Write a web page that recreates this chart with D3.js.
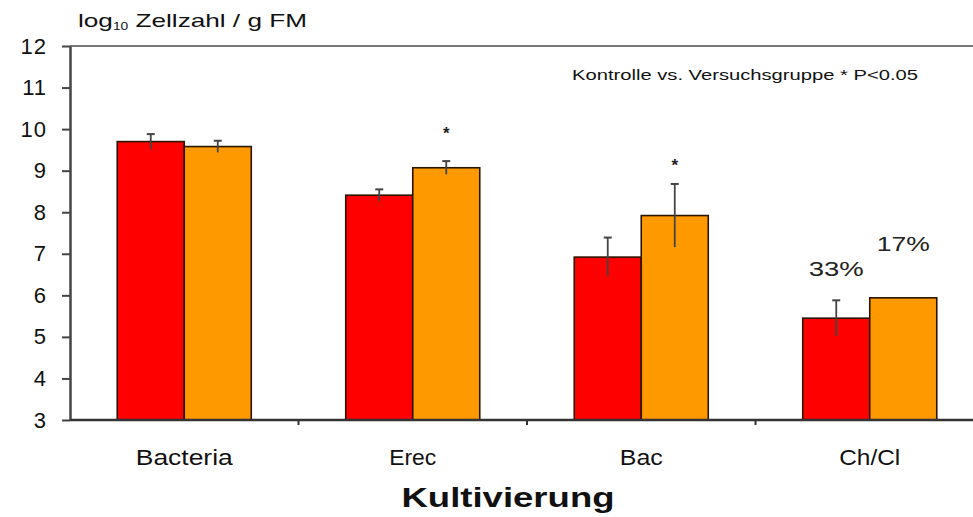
<!DOCTYPE html>
<html><head><meta charset="utf-8">
<script src="https://cdn.jsdelivr.net/npm/d3@7"></script>
<style>body{margin:0;background:#fff}svg{display:block}text{font-family:"Liberation Sans",Arial,sans-serif}</style>
</head><body><svg id="c" width="973" height="517"></svg>
<script>
const categories = ["Bacteria","Erec","Bac","Ch/Cl"];
const series = ["Kontrolle","Versuchsgruppe"];
const kontrolle = [9.70, 8.41, 6.92, 5.45];
const versuch   = [9.58, 9.07, 7.92, 5.94];
const kontrolleErr = [0.18, 0.14, 0.47, 0.43];
const versuchErr   = [0.14, 0.16, 0.76, null];
const signif = [false, true, true, false];
const pctLabels = ["", "", "", "33%"];
const pctLabels2 = ["", "", "", "17%"];
const yTicks = [3,4,5,6,7,8,9,10,11,12];
const colors = ["#ff0000","#ff9900"];

const svg = d3.select("#c");
const y = d3.scaleLinear().domain([3,12]).range([420,46]);
const x0 = d3.scaleBand().domain(categories).range([70,984]).padding(0);
const x1 = d3.scaleBand().domain(series).range([0,x0.bandwidth()]).paddingInner(0).paddingOuter(0.705);

const rows = categories.map((c,i)=>({c, vals:[
  {s:series[0], v:kontrolle[i], e:kontrolleErr[i]},
  {s:series[1], v:versuch[i], e:versuchErr[i]}], sig:signif[i], p1:pctLabels[i], p2:pctLabels2[i]}));

// top border
svg.append("line").attr("x1",70).attr("x2",973).attr("y1",y(12)).attr("y2",y(12))
  .attr("stroke","#777").attr("stroke-width",2);

// bars
const g = svg.selectAll("g.cat").data(rows).join("g").attr("class","cat")
  .attr("transform",d=>`translate(${x0(d.c)},0)`);
g.selectAll("rect").data(d=>d.vals).join("rect")
  .attr("x",d=>x1(d.s)).attr("width",x1.bandwidth())
  .attr("y",d=>y(d.v)).attr("height",d=>y(3)-y(d.v))
  .attr("fill",(d,i)=>colors[i]).attr("stroke","#2a1500").attr("stroke-width",1.6);

// error bars
const eb = g.selectAll("g.err").data(d=>d.vals.filter(v=>v.e!=null)).join("g").attr("class","err");
eb.append("line").attr("x1",d=>x1(d.s)+x1.bandwidth()/2).attr("x2",d=>x1(d.s)+x1.bandwidth()/2)
  .attr("y1",d=>y(d.v+d.e)).attr("y2",d=>y(d.v-d.e)).attr("stroke","#444").attr("stroke-width",1.8);
eb.append("line").attr("x1",d=>x1(d.s)+x1.bandwidth()/2-4).attr("x2",d=>x1(d.s)+x1.bandwidth()/2+4)
  .attr("y1",d=>y(d.v+d.e)).attr("y2",d=>y(d.v+d.e)).attr("stroke","#444").attr("stroke-width",2);

// significance stars
const starOffset = [0, 30, 21, 0];
g.filter(d=>d.sig).append("text")
  .attr("x",x1(series[1])+x1.bandwidth()/2)
  .attr("y",d=>y(d.vals[1].v+d.vals[1].e)-starOffset[categories.indexOf(d.c)]+8)
  .attr("text-anchor","middle").attr("font-size",17).attr("font-weight","bold").attr("fill","#222").text("*");

// percentage labels
g.filter(d=>d.p1).append("text")
  .attr("x",x1(series[0])+x1.bandwidth()/2)
  .attr("y",d=>y(d.vals[0].v)-42).attr("text-anchor","middle")
  .attr("font-size",21).attr("fill","#222").attr("textLength",55).attr("lengthAdjust","spacingAndGlyphs")
  .text(d=>d.p1);
g.filter(d=>d.p2).append("text")
  .attr("x",x1(series[1])+x1.bandwidth()/2)
  .attr("y",d=>y(d.vals[1].v)-47).attr("text-anchor","middle")
  .attr("font-size",21).attr("fill","#222").attr("textLength",53).attr("lengthAdjust","spacingAndGlyphs")
  .text(d=>d.p2);

// y axis
const ya = svg.append("g").attr("transform","translate(70,0)")
  .call(d3.axisLeft(y).tickValues(yTicks).tickSize(8).tickPadding(15).tickSizeOuter(0));
ya.select(".domain").attr("stroke","#444").attr("stroke-width",2.5);
ya.selectAll(".tick line").attr("stroke","#444").attr("stroke-width",2);
ya.selectAll(".tick text").attr("font-size",22).attr("fill","#111").attr("letter-spacing",1)
  .attr("font-family","'Liberation Sans',Arial,sans-serif");

// x axis
svg.append("line").attr("x1",70).attr("x2",973).attr("y1",y(3)).attr("y2",y(3))
  .attr("stroke","#333").attr("stroke-width",2.5);
svg.selectAll("line.xt").data(categories.slice(1)).join("line").attr("class","xt")
  .attr("x1",d=>x0(d)).attr("x2",d=>x0(d)).attr("y1",y(3)).attr("y2",y(3)+5)
  .attr("stroke","#333").attr("stroke-width",2);
const catW = {"Bacteria":97,"Erec":47,"Bac":43,"Ch/Cl":61};
svg.selectAll("text.cat").data(categories).join("text").attr("class","cat")
  .attr("x",d=>x0(d)+x0.bandwidth()/2).attr("y",465).attr("text-anchor","middle")
  .attr("font-size",22).attr("fill","#111")
  .attr("textLength",d=>catW[d]).attr("lengthAdjust","spacingAndGlyphs").text(d=>d);

// x title
svg.append("text").attr("x",508).attr("y",507).attr("text-anchor","middle")
  .attr("font-size",28).attr("font-weight","bold").attr("fill","#111")
  .attr("textLength",213).attr("lengthAdjust","spacingAndGlyphs").text("Kultivierung");

// y title
const yt = svg.append("text").attr("x",78).attr("y",27).attr("font-size",19).attr("fill","#111")
  .attr("textLength",229).attr("lengthAdjust","spacingAndGlyphs");
yt.append("tspan").text("log");
yt.append("tspan").attr("font-size",10).attr("dy",3).text("10");
yt.append("tspan").attr("dy",-3).text(" Zellzahl / g FM");

// note
svg.append("text").attr("x",572).attr("y",80).attr("font-size",15).attr("fill","#111")
  .attr("textLength",346).attr("lengthAdjust","spacingAndGlyphs")
  .text("Kontrolle vs. Versuchsgruppe  * P<0.05");
</script></body></html>
